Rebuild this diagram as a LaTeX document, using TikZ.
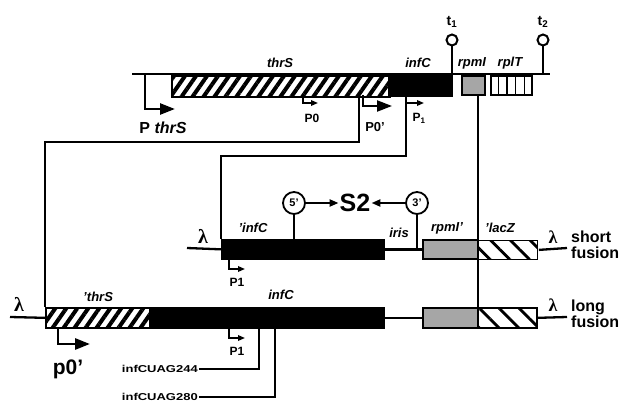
\documentclass[tikz,border=0pt]{standalone}
\usepackage{fontspec}
\setmainfont{Liberation Sans}
\newfontfamily\lamfont{Liberation Serif}
\usetikzlibrary{positioning,calc,arrows.meta,patterns.meta}

\begin{document}
\begin{tikzpicture}[
    x=1pt, y=-1pt,
    dna/.style={line width=2.3pt},
    link/.style={line width=1.6pt},
    gbox/.style={draw, line width=1.7pt, anchor=north west, inner sep=0pt, minimum height=20},
    solid/.style={gbox, fill=black},
    hatchA/.style={gbox, pattern={Lines[angle=55,distance=9pt,line width=4pt]}},
    hatchB/.style={gbox, pattern={Lines[angle=-45,distance=14pt,line width=2.8pt]}},
    grain/.style={gbox, fill=black!35},
    term/.style={circle, draw, line width=2pt, fill=white, minimum size=11pt, inner sep=0pt},
    site/.style={circle, draw, line width=1.8pt, fill=white, minimum size=22pt, inner sep=0pt,
        font=\bfseries\fontsize{11}{11}\selectfont},
    gname/.style={font=\bfseries\itshape\fontsize{13}{13}\selectfont, inner sep=0pt},
    plbl/.style={font=\bfseries\fontsize{12}{12}\selectfont, inner sep=0pt},
    lam/.style={font=\lamfont\bfseries\fontsize{20}{20}\selectfont, inner sep=0pt},
    fus/.style={font=\bfseries\fontsize{16}{16}\selectfont, align=left, anchor=west, inner sep=0pt},
    uag/.style={font=\bfseries\fontsize{10}{10}\selectfont, anchor=east, inner sep=1pt},
    smallprom/.style={line width=1.6pt, -{Triangle[length=7pt,width=5.5pt]}},
    bigprom/.style={line width=2.6pt, -{Triangle[length=15pt,width=11pt]}},
    sitearrow/.style={line width=2.2pt, -{Triangle[length=9pt,width=7pt]}}
]
\useasboundingbox (0,0) rectangle (636,403);

\coordinate (topL) at (132,74);
\coordinate (topR) at (550,74);
\coordinate (cutA) at (359,95);
\coordinate (bendA) at (359,142);
\coordinate (cutB) at (406,95);
\coordinate (bendB) at (406,156);
\coordinate (sL) at (187,248);
\coordinate (sR) at (567,248);
\coordinate (lL) at (10,317);
\coordinate (lR) at (567,317);

\draw[dna] (topL) -- (topR);
\draw[link] (cutA) -- (bendA) -| (45,307);
\draw[link] (cutB) -- (bendB) -| (221,239);
\draw[link] (478,94) -- (478,307);

\node[hatchA, minimum width=218, minimum height=21] (thrS) at (170,74) {};
\node[solid, minimum width=63, minimum height=21] (infC) at (388,74) {};
\node[grain, minimum width=23, minimum height=19] (rpmI) at (461,75) {};
\node[gbox, fill=white, minimum width=41, minimum height=19] (rplT) at (490,75) {};
\foreach \i in {1,...,4}
    \draw[line width=1.3pt] ($(rplT.north west)!\i/5!(rplT.north east)$) -- ($(rplT.south west)!\i/5!(rplT.south east)$);

\node[term] (t1) at (452,40) {};
\node[term] (t2) at (543,40) {};
\draw[dna] (t1) -- (t1 |- topR);
\draw[dna] (t2) -- (t2 |- topR);
\node[plbl, font=\bfseries\fontsize{14}{14}\selectfont] at (452,22) {t\textsubscript{1}};
\node[plbl, font=\bfseries\fontsize{14}{14}\selectfont] at (543,22) {t\textsubscript{2}};

\node[gname] at (280,63) {thrS};
\node[gname] at (418,63) {infC};
\node[gname] at (472,63) {rpmI};
\node[gname] at (510,63) {rplT};

\draw[bigprom] (145,74) |- ++(30,35);
\node[plbl, font=\bfseries\fontsize{16}{16}\selectfont] at (163,128) {P \textit{thrS}};
\draw[smallprom] (303,95) |- ++(15,8);
\node[plbl] at (312,118) {P0};
\draw[bigprom, line width=2.2pt] (363,95) |- ++(29,11);
\node[plbl, font=\bfseries\fontsize{13}{13}\selectfont] at (375,127) {P0'};
\draw[smallprom] (cutB) ++(0,8) -- ++(18,0);
\node[plbl] at (419,118) {P\textsubscript{1}};

\node[solid, minimum width=162, minimum height=19] (sinfC) at (221,239) {};
\node[grain, minimum width=55, minimum height=19] (srpm) at (422,239) {};
\node[hatchB, minimum width=59, minimum height=19] (slac) at (477,239) {};
\draw[dna] (sL) -- (sinfC.west);
\draw[dna] (sinfC.east) -- (srpm.west);
\draw[dna] (slac.east) -- (sR);
\node[lam] at (203,236) {λ};
\node[lam, font=\lamfont\bfseries\fontsize{18}{18}\selectfont] at (553,237) {λ};
\node[gname] at (253,228) {'infC};
\node[gname] at (399,233) {iris};
\node[gname] at (447,228) {rpmI'};
\node[gname] at (500,228) {'lacZ};
\node[fus] at (571,245) {short\\fusion};

\node[site] (s5) at (294,203) {5'};
\node[site] (s3) at (417,203) {3'};
\node[font=\bfseries\fontsize{25}{25}\selectfont, inner sep=1pt] (S2) at (355,203) {S2};
\draw[dna] (s5) -- (s5 |- sinfC.north);
\draw[dna] (s3) -- (s3 |- sR);
\draw[sitearrow] (s5) -- (S2);
\draw[sitearrow] (s3) -- (S2);

\draw[smallprom] (229,259) |- ++(16,10);
\node[plbl] at (237,282) {P1};

\node[hatchA, minimum width=104] (lthrS) at (45,307) {};
\node[solid, minimum width=234] (linfC) at (149,307) {};
\node[grain, minimum width=55] (lrpm) at (422,307) {};
\node[hatchB, minimum width=59] (llac) at (477,307) {};
\draw[dna] (lL) -- (lthrS.west);
\draw[dna] (linfC.east) -- (lrpm.west);
\draw[dna] (llac.east) -- (lR);
\node[lam] at (19,304) {λ};
\node[lam, font=\lamfont\bfseries\fontsize{18}{18}\selectfont] at (553,305) {λ};
\node[gname] at (98,297) {'thrS};
\node[gname] at (281,295) {infC};
\node[fus] at (571,314) {long\\fusion};

\draw[smallprom] (229,328) |- ++(16,10);
\node[plbl] at (237,351) {P1};
\draw[bigprom, line width=2.8pt] (58,328) |- ++(32,16);
\node[plbl, font=\bfseries\fontsize{21}{21}\selectfont] at (68,369) {p0'};

\node[uag] (u244) at (199,369) {\scalebox{1.3}[1]{infCUAG244}};
\node[uag] (u280) at (199,397) {\scalebox{1.3}[1]{infCUAG280}};
\draw[link] (u244.east) -| (259,327);
\draw[link] (u280.east) -| (275,327);
\end{tikzpicture}
\end{document}
